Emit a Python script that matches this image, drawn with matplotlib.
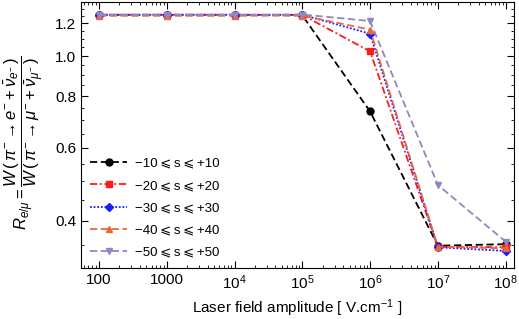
import matplotlib
matplotlib.use("Agg")
import matplotlib.pyplot as plt
from matplotlib.ticker import FixedLocator, FixedFormatter, LogLocator, NullFormatter

plt.rcParams['font.family'] = ['Liberation Sans', 'DejaVu Sans']
plt.rcParams['mathtext.fontset'] = 'custom'
plt.rcParams['mathtext.rm'] = 'Liberation Sans'
plt.rcParams['mathtext.it'] = 'Liberation Sans:italic'
plt.rcParams['mathtext.sf'] = 'Liberation Sans'

fields = [1e2, 1e3, 1e4, 1e5, 1e6, 1e7, 1e8]
r10 = [1.259, 1.259, 1.259, 1.255, 0.735, 0.348, 0.351]
r20 = [1.259, 1.259, 1.259, 1.258, 1.027, 0.346, 0.345]
r30 = [1.259, 1.259, 1.259, 1.259, 1.133, 0.345, 0.338]
r40 = [1.252, 1.252, 1.252, 1.254, 1.159, 0.346, 0.343]
r50 = [1.259, 1.259, 1.259, 1.261, 1.216, 0.488, 0.356]
labels = ['\u221210\u2009\u2a7d\u2009s\u2009\u2a7d\u2009+10', '\u221220\u2009\u2a7d\u2009s\u2009\u2a7d\u2009+20',
          '\u221230\u2009\u2a7d\u2009s\u2009\u2a7d\u2009+30', '\u221240\u2009\u2a7d\u2009s\u2009\u2a7d\u2009+40',
          '\u221250\u2009\u2a7d\u2009s\u2009\u2a7d\u2009+50']
xticks = [1e2, 1e3, 1e4, 1e5, 1e6, 1e7, 1e8]
xticklabels = ['100', '1000', '$10^{4}$', '$10^{5}$', '$10^{6}$', '$10^{7}$', '$10^{8}$']
yticks = [0.4, 0.6, 0.8, 1.0, 1.2]
yticklabels = ['0.4', '0.6', '0.8', '1.0', '1.2']

fig = plt.figure(figsize=(5.19, 3.19), dpi=100)
ax = fig.add_axes([0.156, 0.161, 0.834, 0.834])

styles = [
    dict(color='black', ls=(0, (4, 2)), marker='o', ms=5),
    dict(color='#ff1a1a', ls=(0, (4, 1.5, 1, 1.5)), marker='s', ms=4),
    dict(color='#1a1aff', ls=(0, (1, 1)), marker='D', ms=4),
    dict(color='#e8683c', ls=(0, (4, 2)), marker='^', ms=5),
    dict(color='#8e88c0', ls=(0, (4, 2)), marker='v', ms=5),
]
for data, lab, st in zip([r10, r20, r30, r40, r50], labels, styles):
    ax.plot(fields, data, lw=1.3, label=lab, **st)

ax.set_xscale('log')
ax.set_yscale('log')
ax.set_xlim(54.3, 1.32e8)
ax.set_ylim(0.308, 1.355)

ax.xaxis.set_major_locator(FixedLocator(xticks))
ax.xaxis.set_major_formatter(FixedFormatter(xticklabels))
ax.xaxis.set_minor_locator(LogLocator(base=10, subs=range(2, 10), numticks=20))
ax.xaxis.set_minor_formatter(NullFormatter())
ax.yaxis.set_major_locator(FixedLocator(yticks))
ax.yaxis.set_major_formatter(FixedFormatter(yticklabels))
minor_y = [0.35, 0.45, 0.5, 0.55, 0.65, 0.7, 0.75, 0.85, 0.9, 0.95, 1.05, 1.1, 1.15, 1.25, 1.3]
ax.yaxis.set_minor_locator(FixedLocator(minor_y))
ax.yaxis.set_minor_formatter(NullFormatter())

ax.tick_params(which='both', direction='in', top=True, right=True, labelsize=11)
ax.tick_params(which='major', length=5)
ax.tick_params(which='minor', length=2.5)
ax.tick_params(axis='x', pad=4)

ax.set_xlabel('Laser field amplitude [ V.cm$^{-1}$ ]', fontsize=11, labelpad=4)
ax.set_ylabel(r'$R_{e/\mu}=\dfrac{W\,(\,\pi^{-}\rightarrow e^{-}+\bar{\nu}_{e^{-}}\,)}{W\,(\,\pi^{-}\rightarrow \mu^{-}+\bar{\nu}_{\mu^{-}}\,)}$',
              fontsize=12)
ax.yaxis.set_label_coords(-0.08, 0.47)

ax.legend(loc='lower left', frameon=False, fontsize=9.5, handlelength=2.8,
          handletextpad=0.6, labelspacing=0.75, bbox_to_anchor=(0.0, 0.0),
          borderaxespad=0.3)

fig.savefig('out.png', dpi=100)
